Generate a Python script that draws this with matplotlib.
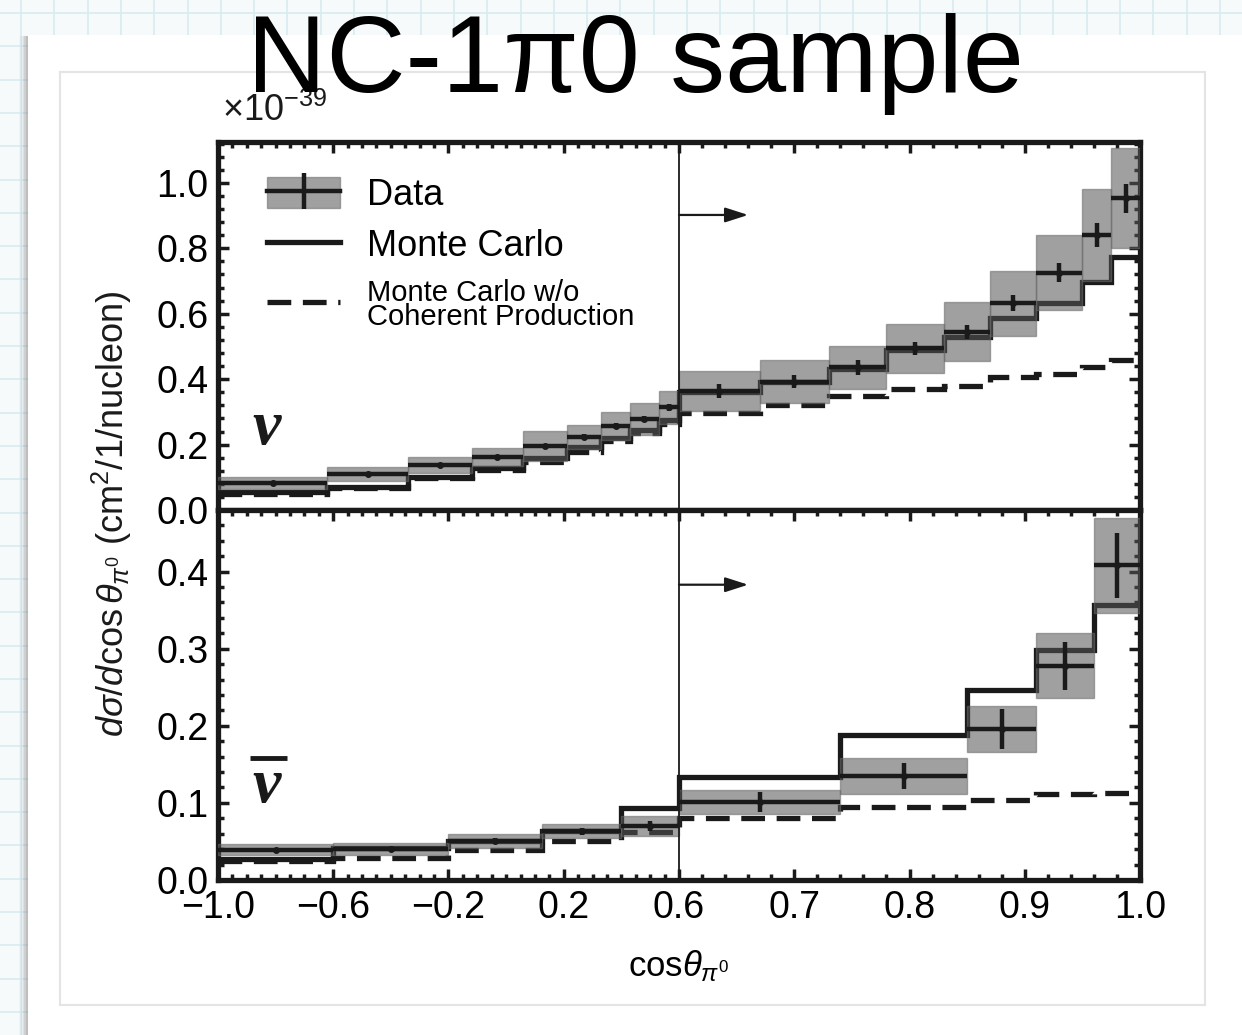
import numpy as np
import matplotlib
matplotlib.use('Agg')
import matplotlib.pyplot as plt
from matplotlib.patches import Rectangle, Patch
from matplotlib.lines import Line2D

plt.rcParams['font.family'] = ['Liberation Sans', 'DejaVu Sans']
plt.rcParams['mathtext.fontset'] = 'custom'
plt.rcParams['mathtext.rm'] = 'Liberation Sans'
plt.rcParams['mathtext.it'] = 'Liberation Sans:italic'
plt.rcParams['mathtext.bf'] = 'Liberation Sans:bold'

# neutrino mode (units of 1e-39 cm^2/nucleon)
edges_nu = [-1.0, -0.62, -0.34, -0.12, 0.06, 0.21, 0.33, 0.43, 0.53, 0.6,
            0.67, 0.73, 0.78, 0.83, 0.87, 0.91, 0.95, 0.975, 1.0]
data_nu = [0.082, 0.110, 0.138, 0.163, 0.196, 0.224, 0.257, 0.278, 0.314,
           0.364, 0.392, 0.436, 0.494, 0.545, 0.632, 0.726, 0.841, 0.953]
stat_nu = [0.004, 0.004, 0.005, 0.005, 0.006, 0.007, 0.008, 0.009, 0.010,
           0.020, 0.020, 0.022, 0.020, 0.022, 0.025, 0.028, 0.036, 0.045]
syst_nu = [0.019, 0.022, 0.024, 0.027, 0.045, 0.036, 0.043, 0.050, 0.051,
           0.062, 0.066, 0.066, 0.075, 0.090, 0.100, 0.115, 0.140, 0.153]
mc_nu = [0.055, 0.071, 0.102, 0.127, 0.158, 0.194, 0.219, 0.245, 0.275,
         0.362, 0.390, 0.432, 0.490, 0.530, 0.586, 0.632, 0.698, 0.772]
nocoh_nu = [0.050, 0.068, 0.098, 0.122, 0.148, 0.178, 0.210, 0.235, 0.262,
            0.298, 0.320, 0.350, 0.369, 0.379, 0.408, 0.415, 0.436, 0.459]

# antineutrino mode
edges_nb = [-1.0, -0.6, -0.2, 0.125, 0.4, 0.6, 0.74, 0.85, 0.91, 0.96, 1.0]
data_nb = [0.039, 0.040, 0.050, 0.063, 0.070, 0.101, 0.135, 0.196, 0.278, 0.408]
stat_nb = [0.003, 0.003, 0.004, 0.005, 0.007, 0.013, 0.017, 0.026, 0.031, 0.042]
syst_nb = [0.007, 0.008, 0.009, 0.009, 0.013, 0.016, 0.023, 0.030, 0.042, 0.062]
mc_nb = [0.027, 0.041, 0.050, 0.064, 0.093, 0.134, 0.188, 0.247, 0.298, 0.357]
nocoh_nb = [0.025, 0.028, 0.039, 0.051, 0.062, 0.080, 0.094, 0.104, 0.112, 0.113]

xtick_vals = [-1.0, -0.6, -0.2, 0.2, 0.6, 0.7, 0.8, 0.9, 1.0]

INK = '#1a1a1a'
BOXC = '#565656'
DASH = (0, (4.5, 2.2))


# stretch cos > 0.6 by a factor 4
def fwd(x):
    x = np.asarray(x, dtype=float)
    return np.where(x <= 0.6, x, 0.6 + 4 * (x - 0.6))


def inv(y):
    y = np.asarray(y, dtype=float)
    return np.where(y <= 0.6, y, 0.6 + (y - 0.6) / 4)


fig = plt.figure(figsize=(12.42, 10.35), dpi=100)

# slide background: graph paper, white card, inner frame
bg = fig.add_axes([0, 0, 1, 1], zorder=-10)
bg.set_xlim(0, 1242)
bg.set_ylim(1035, 0)
bg.axis('off')
bg.add_patch(Rectangle((0, 0), 1242, 1035, fc='#f6fafb', ec='none', zorder=0))
for gx in np.arange(21, 1242, 33.3):
    bg.axvline(gx, color='#d8ecf1', lw=1.2, zorder=1)
for gy in np.arange(13, 1035, 33.3):
    bg.axhline(gy, color='#d8ecf1', lw=1.2, zorder=1)
for i, a in enumerate([0.04, 0.07, 0.11, 0.16, 0.22]):
    bg.add_patch(Rectangle((19 + 1.8 * i, 36), 1300, 1100, fc='#808080',
                           alpha=a, ec='none', zorder=2))
bg.add_patch(Rectangle((28, 35), 1300, 1100, fc='white', ec='none', zorder=3))
bg.add_patch(Rectangle((60, 72), 1145, 933, fc='white', ec='#e4e4e4', lw=1.5, zorder=4))

ax1 = fig.add_axes([0.1755, 0.5072, 0.7424, 0.3556])
ax2 = fig.add_axes([0.1755, 0.1498, 0.7424, 0.3575])


def draw_panel(ax, edges, data, stat, syst, mc, nocoh):
    edges = np.array(edges)
    lo, hi = edges[:-1], edges[1:]
    data = np.array(data)
    syst = np.array(syst)
    ax.stairs(mc, edges, baseline=None, color=INK, lw=3.8, zorder=2)
    ax.stairs(nocoh, edges, baseline=None, color=INK, lw=3.8, ls=DASH, zorder=2)
    ax.bar(lo, 2 * syst, width=hi - lo, bottom=data - syst, align='edge',
           color=BOXC, alpha=0.56, ec='#6a6a6a', lw=1, zorder=3)
    ax.errorbar((lo + hi) / 2, data, xerr=(hi - lo) / 2, yerr=stat, fmt='o',
                ms=4, color=INK, elinewidth=3.2, capsize=0, zorder=4)


draw_panel(ax1, edges_nu, data_nu, stat_nu, syst_nu, mc_nu, nocoh_nu)
draw_panel(ax2, edges_nb, data_nb, stat_nb, syst_nb, mc_nb, nocoh_nb)

for ax in (ax1, ax2):
    ax.set_xscale('function', functions=(fwd, inv))
    ax.set_xlim(-1, 1)
    ax.set_xticks(xtick_vals)
    ax.set_xticks(np.r_[np.arange(-1, 0.6, 0.05), np.arange(0.6, 1.0001, 0.02)], minor=True)
    ax.tick_params(which='both', direction='in', top=True, right=True,
                   width=2.5, labelsize=27, pad=7, color=INK)
    ax.tick_params(which='major', length=8)
    ax.tick_params(which='minor', length=4.5)
    for s in ax.spines.values():
        s.set_linewidth(3.8)
        s.set_color(INK)
    ax.axvline(0.6, color=INK, lw=1.3, zorder=5)
    ax.yaxis.set_major_formatter(matplotlib.ticker.FormatStrFormatter('%.1f'))

ax1.set_ylim(0, 1.125)
ax1.set_yticks(np.arange(0, 1.01, 0.2))
ax1.set_yticks(np.arange(0, 1.125, 0.04), minor=True)
ax1.tick_params(axis='x', which='both', bottom=False, labelbottom=False)

ax2.set_ylim(0, 0.48)
ax2.set_yticks(np.arange(0, 0.41, 0.1))
ax2.set_yticks(np.arange(0, 0.48, 0.02), minor=True)
ax2.set_xticklabels([f'{v:.1f}'.replace('-', '\u2212') for v in xtick_vals])
ax2.set_xlabel(r'cos$\theta_{\pi^0}$', fontsize=25, labelpad=16)

# arrows marking the stretched region
for ax, ya in ((ax1, 0.902), (ax2, 0.383)):
    ax.annotate('', xy=(0.66, ya), xytext=(0.6, ya),
                arrowprops=dict(arrowstyle='-|>,head_length=1.4,head_width=0.45',
                                color=INK, lw=1.6, shrinkA=0, shrinkB=0), zorder=6)

# mode labels
ax1.text(0.053, 0.22, '\u03bd', transform=ax1.transAxes, fontsize=46,
         family='Liberation Serif', style='italic', weight='bold',
         ha='center', va='center', color=INK)
ax2.text(0.053, 0.25, '\u03bd', transform=ax2.transAxes, fontsize=46,
         family='Liberation Serif', style='italic', weight='bold',
         ha='center', va='center', color=INK)
ax2.plot([0.035, 0.075], [0.33, 0.33], transform=ax2.transAxes, color=INK, lw=3.5,
         solid_capstyle='butt')

# legend
h_data = (Patch(facecolor=BOXC, alpha=0.56, edgecolor='#6a6a6a'),
          Line2D([], [], color=INK, lw=3.2, marker='|', ms=26, mew=3.2))
h_mc = Line2D([], [], color=INK, lw=3.8)
h_nc = Line2D([], [], color=INK, lw=3.8, ls=DASH)
leg = ax1.legend([h_data, h_mc, h_nc],
                 ['Data', 'Monte Carlo', 'Monte Carlo w/o\nCoherent Production'],
                 loc='upper left', bbox_to_anchor=(0.038, 0.945), frameon=False,
                 fontsize=26, handlelength=2.0, handleheight=0.95, handletextpad=0.75,
                 labelspacing=0.42, borderaxespad=0)
leg.get_texts()[2].set_fontsize(21)
leg.get_texts()[2].set_linespacing(0.82)

fig.text(0.090, 0.504, r'$d\sigma/d\cos\theta_{\pi^0}$ (cm$^2$/1/nucleon)',
         rotation=90, fontsize=26, ha='center', va='center', color=INK)
fig.text(0.1787, 0.883, r'$\times$10$^{-39}$', fontsize=26, ha='left',
         va='baseline', color=INK)
fig.text(0.512, 0.911, 'NC-1\u03c00 sample', fontsize=79, ha='center',
         va='baseline', color='black')

fig.savefig('out.png', dpi=100)
